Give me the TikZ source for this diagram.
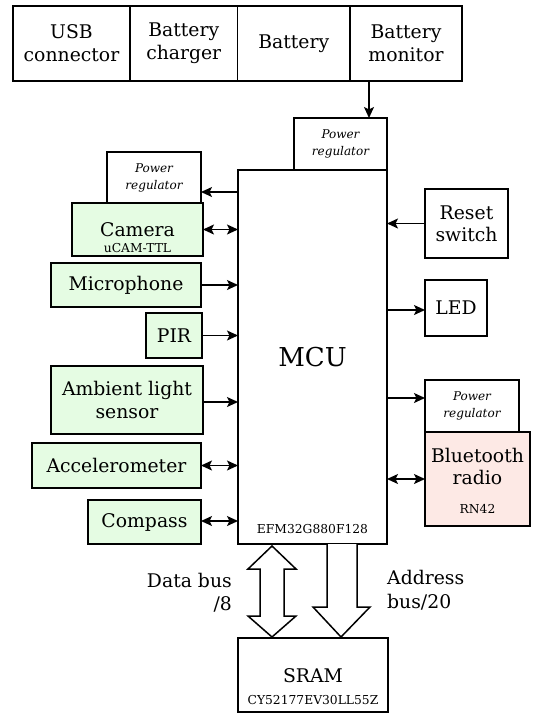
\documentclass[tikz,border=0pt]{standalone}
\usepackage{fontspec}
\setmainfont{DejaVu Serif}
\usetikzlibrary{arrows.meta}
\definecolor{sensorgreen}{HTML}{E5FCE3}
\definecolor{radiopink}{HTML}{FDE9E5}
\tikzset{
  box/.style={draw, line width=1.3pt, fill=white, inner sep=0pt, outer sep=0pt, align=center,
    font=\fontsize{18.8}{23}\selectfont},
  topbox/.style={box, line width=1.6pt},
  sensor/.style={box, fill=sensorgreen},
  regbox/.style={box, font=\fontsize{12}{17}\selectfont\itshape},
  small/.style={inner sep=0pt, font=\fontsize{12.3}{14}\selectfont},
  lbl/.style={inner sep=0pt, font=\fontsize{18.8}{23}\selectfont},
  tip/.style={},
  arr/.style={line width=1.5pt, -{Stealth[length=11pt,width=10pt,inset=2.5pt]}},
  darr/.style={line width=1.5pt, {Stealth[length=11pt,width=10pt,inset=2.5pt]}-{Stealth[length=11pt,width=10pt,inset=2.5pt]}},
  bus/.style={draw, line width=1.5pt, fill=white, line join=miter}
}
\begin{document}
\begin{tikzpicture}[x=1pt,y=-1pt]
\useasboundingbox (0,0) rectangle (542,713);
% top row
\node[topbox, minimum width=117pt, minimum height=75pt] (usb) at (71.5,43.5) {USB\\connector};
\node[topbox, minimum width=107.5pt, minimum height=75pt] (chg) at (183.75,43.5) {Battery\\charger};
\node[topbox, minimum width=112.5pt, minimum height=75pt] (bat) at (293.75,43.5) {Battery};
\node[topbox, minimum width=112pt, minimum height=75pt] (mon) at (406,43.5) {Battery\\monitor};
% regulators
\node[regbox, minimum width=93pt, minimum height=52pt] (prt) at (340.5,144) {Power\\regulator};
\node[regbox, minimum width=94pt, minimum height=51pt] (prl) at (154,177.5) {Power\\regulator};
\node[regbox, minimum width=94pt, minimum height=52pt] (prr) at (472,406) {Power\\regulator};
% MCU
\node[box, line width=1.6pt, minimum width=149pt, minimum height=374pt, font=\fontsize{26}{30}\selectfont] (mcu) at (312.5,357) {MCU};
\node[small, anchor=base] (mcupart) at (312.5,533) {EFM32G880F128};
% left sensors
\node[sensor, minimum width=131pt, minimum height=53pt] (cam) at (137.5,229.5) {};
\node[lbl, anchor=base] (camt) at (137.5,236) {Camera};
\node[small, anchor=base] (camp) at (137.5,252) {uCAM-TTL};
\node[sensor, minimum width=150pt, minimum height=44pt] (mic) at (126,285) {Microphone};
\node[sensor, minimum width=56pt, minimum height=45pt] (pir) at (174,335.5) {PIR};
\node[sensor, minimum width=152pt, minimum height=68pt] (amb) at (127,400) {Ambient light\\sensor};
\node[sensor, minimum width=169pt, minimum height=45pt] (acc) at (116.5,465.5) {Accelerometer};
\node[sensor, minimum width=113pt, minimum height=44pt] (cmp) at (144.5,522) {Compass};
% right side
\node[box, minimum width=83pt, minimum height=69pt, font=\fontsize{18.8}{22}\selectfont] (rst) at (466.5,223.5) {Reset\\switch};
\node[box, minimum width=62pt, minimum height=56pt] (led) at (456,308) {LED};
\node[box, fill=radiopink, minimum width=105pt, minimum height=94pt] (bt) at (477.5,479) {};
\node[lbl, anchor=base] (btt) at (477.5,462) {Bluetooth};
\node[lbl, anchor=base] (btr) at (477.5,484) {radio};
\node[small, anchor=base] (btp) at (477.5,513) {RN42};
% SRAM
\node[box, minimum width=150pt, minimum height=74pt] (sram) at (313,675) {};
\node[lbl, anchor=base] (sramt) at (313,682) {SRAM};
\node[small, anchor=base] (sramp) at (313,704) {CY52177EV30LL55Z};
% connectors
\coordinate (mx) at (369,0);
\draw[arr] (mon.south -| mx) -- (prt.north -| mx);
\coordinate (yl) at (0,192);
\draw[arr] (mcu.west |- yl) -- (prl.east |- yl);
\draw[darr] (cam.east) -- (cam.east -| mcu.west);
\draw[arr] (mic.east) -- (mic.east -| mcu.west);
\draw[arr] (pir.east) -- (pir.east -| mcu.west);
\coordinate (ya) at (0,402);
\draw[arr] (amb.east |- ya) -- (mcu.west |- ya);
\draw[darr] (acc.east) -- (acc.east -| mcu.west);
\coordinate (yc) at (0,521);
\draw[darr] (cmp.east |- yc) -- (mcu.west |- yc);
\draw[arr] (rst.west) -- (rst.west -| mcu.east);
\coordinate (yled) at (0,310);
\draw[arr] (mcu.east |- yled) -- (led.west |- yled);
\coordinate (yr) at (0,398);
\draw[arr] (mcu.east |- yr) -- (prr.west |- yr);
\draw[darr] (mcu.east |- bt.west) -- (bt.west);
% buses
\draw[bus] (272,546) -- (296,569) -- (284,569) -- (284,616) -- (296,616) -- (272,637)
  -- (248,616) -- (260,616) -- (260,569) -- (248,569) -- cycle;
\draw[bus] (327,544) -- (327,607) -- (313,607) -- (341,637) -- (370,607) -- (357,607) -- (357,544);
\node[lbl, anchor=base east] (db1) at (232,587) {Data bus};
\node[lbl, anchor=base east] (db2) at (232,610) {/8};
\node[lbl, anchor=base west] (ab1) at (387,584) {Address};
\node[lbl, anchor=base west] (ab2) at (387,608) {bus/20};
\end{tikzpicture}
\end{document}
